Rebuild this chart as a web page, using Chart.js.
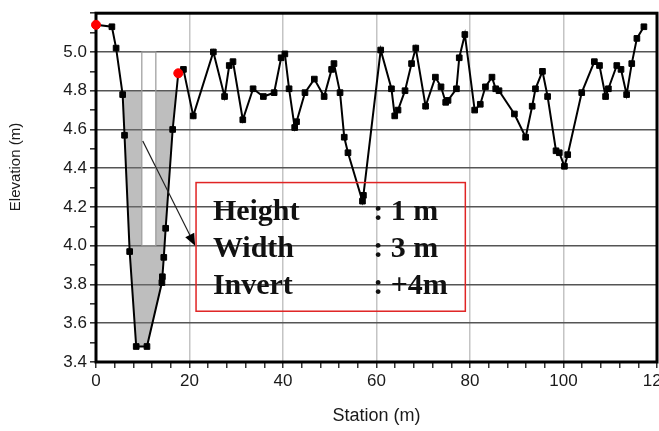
<!DOCTYPE html>
<html>
<head>
<meta charset="utf-8">
<script src="https://cdn.jsdelivr.net/npm/chart.js@4.4.0/dist/chart.umd.min.js"></script>
<style>
  html, body { margin: 0; padding: 0; background: #fff; overflow: hidden; }
  #wrap { width: 680px; height: 431px; }
</style>
</head>
<body>
<div id="wrap"><canvas id="profileChart"></canvas></div>
<script>
// ground profile (station m, elevation m)
const stations = [0, 3.4, 4.3, 5.7, 6.1, 7.2, 8.6, 10.9, 14.1, 14.2,
    14.5, 14.9, 16.4, 17.6, 18.7, 20.8, 25.1, 27.5, 28.5, 29.3,
    31.4, 33.6, 35.8, 38.1, 39.6, 40.4, 41.3, 42.5, 42.9, 44.7,
    46.7, 48.8, 50.4, 50.9, 52.2, 53.1, 53.9, 57.0, 57.2, 60.9,
    63.2, 63.9, 64.6, 66.1, 67.5, 68.4, 70.5, 72.6, 73.8, 74.8,
    75.3, 77.1, 77.7, 78.9, 81.0, 82.2, 83.3, 84.7, 85.5, 86.2,
    89.5, 91.9, 93.3, 94.0, 95.5, 96.6, 98.4, 99.1, 100.2, 100.9,
    103.9, 106.6, 107.7, 109.0, 109.6, 111.4, 112.3, 113.5, 114.6, 115.7,
    117.2];
const elevations = [5.14, 5.13, 5.02, 4.78, 4.57, 3.97, 3.48, 3.48, 3.81, 3.84,
    3.94, 4.09, 4.60, 4.89, 4.91, 4.67, 5.00, 4.77, 4.93, 4.95,
    4.65, 4.81, 4.77, 4.79, 4.97, 4.99, 4.81, 4.61, 4.64, 4.79,
    4.86, 4.77, 4.91, 4.94, 4.79, 4.56, 4.48, 4.23, 4.26, 5.01,
    4.81, 4.67, 4.70, 4.80, 4.94, 5.02, 4.72, 4.87, 4.82, 4.74,
    4.75, 4.81, 4.97, 5.09, 4.70, 4.73, 4.82, 4.87, 4.81, 4.80,
    4.68, 4.56, 4.72, 4.81, 4.90, 4.77, 4.49, 4.48, 4.41, 4.47,
    4.79, 4.95, 4.93, 4.77, 4.81, 4.93, 4.91, 4.78, 4.94, 5.07,
    5.13];

// red end markers of the crossing section
const markerStations = [0, 17.6];
const markerElevations = [5.14, 4.89];

// flooded area (water at 4.8 m, culvert opening left dry)
const waterStations = [5.6, 9.8, 9.8, 12.8, 12.8, 17.1, 16.4, 14.9, 14.5, 14.2, 14.1, 10.9, 8.6, 7.2, 6.1, 5.7];
const waterElevations = [4.8, 4.8, 4.0, 4.0, 4.8, 4.8, 4.60, 4.09, 3.94, 3.84, 3.81, 3.48, 3.48, 3.97, 4.57, 4.78];

// culvert box outline
const culvertStations = [9.8, 9.8, 12.8, 12.8, 9.8];
const culvertElevations = [4.0, 5.0, 5.0, 4.0, 4.0];

const noteLabels = ['Height', 'Width', 'Invert'];
const noteValues = [': 1 m', ': 3 m', ': +4m'];

const toPoints = (xs, ys) => xs.map((v, i) => ({ x: v, y: ys[i] }));

const AXIS_FONT = '"Liberation Sans", Arial, sans-serif';

const framePlugin = {
    id: 'frame',
    beforeDatasetsDraw(chart) {
        const { ctx, chartArea: a } = chart;
        ctx.save();
        ctx.strokeStyle = '#000';
        ctx.lineWidth = 3;
        ctx.strokeRect(a.left, a.top, a.right - a.left, a.bottom - a.top);
        ctx.restore();
    }
};

const notePlugin = {
    id: 'culvertNote',
    afterDatasetsDraw(chart) {
        const { ctx } = chart;
        const x = chart.scales.x;
        const y = chart.scales.y;
        ctx.save();

        // arrow from the culvert to the note
        const x1 = x.getPixelForValue(10.0), y1 = y.getPixelForValue(4.54);
        const x2 = x.getPixelForValue(21.2), y2 = y.getPixelForValue(4.0);
        const ang = Math.atan2(y2 - y1, x2 - x1);
        ctx.strokeStyle = '#222';
        ctx.lineWidth = 1.2;
        ctx.beginPath();
        ctx.moveTo(x1, y1);
        ctx.lineTo(x2 - 8 * Math.cos(ang), y2 - 8 * Math.sin(ang));
        ctx.stroke();
        ctx.fillStyle = '#000';
        ctx.beginPath();
        ctx.moveTo(x2, y2);
        ctx.lineTo(x2 - 12 * Math.cos(ang) + 5 * Math.sin(ang), y2 - 12 * Math.sin(ang) - 5 * Math.cos(ang));
        ctx.lineTo(x2 - 12 * Math.cos(ang) - 5 * Math.sin(ang), y2 - 12 * Math.sin(ang) + 5 * Math.cos(ang));
        ctx.closePath();
        ctx.fill();

        // note box
        const bx1 = x.getPixelForValue(21.4), bx2 = x.getPixelForValue(79.0);
        const by1 = y.getPixelForValue(4.326), by2 = y.getPixelForValue(3.662);
        ctx.strokeStyle = '#e02424';
        ctx.lineWidth = 1.5;
        ctx.strokeRect(bx1, by1, bx2 - bx1, by2 - by1);

        ctx.font = 'bold 30px "Liberation Serif", "Times New Roman", serif';
        ctx.fillStyle = '#111';
        ctx.textAlign = 'left';
        ctx.textBaseline = 'alphabetic';
        const baselines = [4.131, 3.942, 3.753];
        noteLabels.forEach((t, i) => {
            const by = y.getPixelForValue(baselines[i]);
            ctx.fillText(t, x.getPixelForValue(25.0), by);
            ctx.fillText(noteValues[i], x.getPixelForValue(59.3), by);
        });
        ctx.restore();
    }
};

const yTitlePlugin = {
    id: 'yTitle',
    afterDraw(chart) {
        const { ctx } = chart;
        ctx.save();
        ctx.translate(16, 167);
        ctx.rotate(-Math.PI / 2);
        ctx.font = '15px ' + AXIS_FONT;
        ctx.fillStyle = '#1a1a1a';
        ctx.textAlign = 'center';
        ctx.textBaseline = 'middle';
        ctx.fillText('Elevation (m)', 0, 0);
        ctx.restore();
    }
};

const ctx = document.getElementById('profileChart').getContext('2d');
new Chart(ctx, {
    type: 'line',
    data: {
        datasets: [{
            label: 'markers',
            data: toPoints(markerStations, markerElevations),
            showLine: false,
            pointStyle: 'circle',
            pointRadius: 4.5,
            pointBackgroundColor: '#ff0000',
            pointBorderColor: '#ff0000',
            clip: false,
            order: 0
        }, {
            label: 'ground',
            data: toPoints(stations, elevations),
            borderColor: '#000',
            borderWidth: 2,
            pointStyle: 'rect',
            pointRadius: 4,
            pointBackgroundColor: '#000',
            pointBorderColor: '#000',
            pointBorderWidth: 1,
            tension: 0,
            fill: false,
            clip: false,
            order: 1
        }, {
            label: 'culvert',
            data: toPoints(culvertStations, culvertElevations),
            borderColor: '#999',
            borderWidth: 1.2,
            pointRadius: 0,
            fill: false,
            order: 2
        }, {
            label: 'water',
            data: toPoints(waterStations, waterElevations),
            borderColor: 'transparent',
            borderWidth: 0,
            backgroundColor: 'rgba(120,120,120,0.48)',
            pointRadius: 0,
            fill: 'shape',
            order: 3
        }]
    },
    options: {
        responsive: true,
        maintainAspectRatio: false,
        animation: false,
        layout: { padding: { left: 0, right: 23, top: 13, bottom: 0 } },
        plugins: {
            legend: { display: false },
            tooltip: { enabled: false }
        },
        scales: {
            x: {
                type: 'linear',
                min: 0,
                max: 120,
                afterFit: (scale) => { scale.height = 69; },
                ticks: {
                    stepSize: 4,
                    autoSkip: false,
                    maxRotation: 0,
                    padding: 3,
                    color: '#1a1a1a',
                    font: { family: AXIS_FONT, size: 17 },
                    callback: (v) => (v % 20 === 0 ? v : '')
                },
                grid: {
                    color: (c) => (c.tick && c.tick.value % 20 === 0 && c.tick.value > 0 && c.tick.value < 120 ? '#c4c4c4' : 'transparent'),
                    lineWidth: 1.5,
                    tickColor: '#333',
                    tickLength: 6
                },
                border: { display: false },
                title: {
                    display: true,
                    text: 'Station (m)',
                    color: '#1a1a1a',
                    font: { family: AXIS_FONT, size: 18 },
                    padding: { top: 0, bottom: 4 }
                }
            },
            y: {
                min: 3.4,
                max: 5.2,
                afterFit: (scale) => { scale.width = 96; },
                ticks: {
                    stepSize: 0.1,
                    autoSkip: false,
                    padding: 3,
                    color: '#1a1a1a',
                    font: { family: AXIS_FONT, size: 17 },
                    callback: (v) => {
                        const r = Math.round(v * 10);
                        return (r % 2 === 0 && r < 52) ? v.toFixed(1) : '';
                    }
                },
                grid: {
                    color: (c) => {
                        if (!c.tick) return 'transparent';
                        const r = Math.round(c.tick.value * 10);
                        return (r % 2 === 0 && r > 34 && r < 52) ? '#555' : 'transparent';
                    },
                    lineWidth: 1.6,
                    tickColor: '#333',
                    tickLength: 6
                },
                border: { display: false }
            }
        }
    },
    plugins: [framePlugin, notePlugin, yTitlePlugin]
});
</script>
</body>
</html>
